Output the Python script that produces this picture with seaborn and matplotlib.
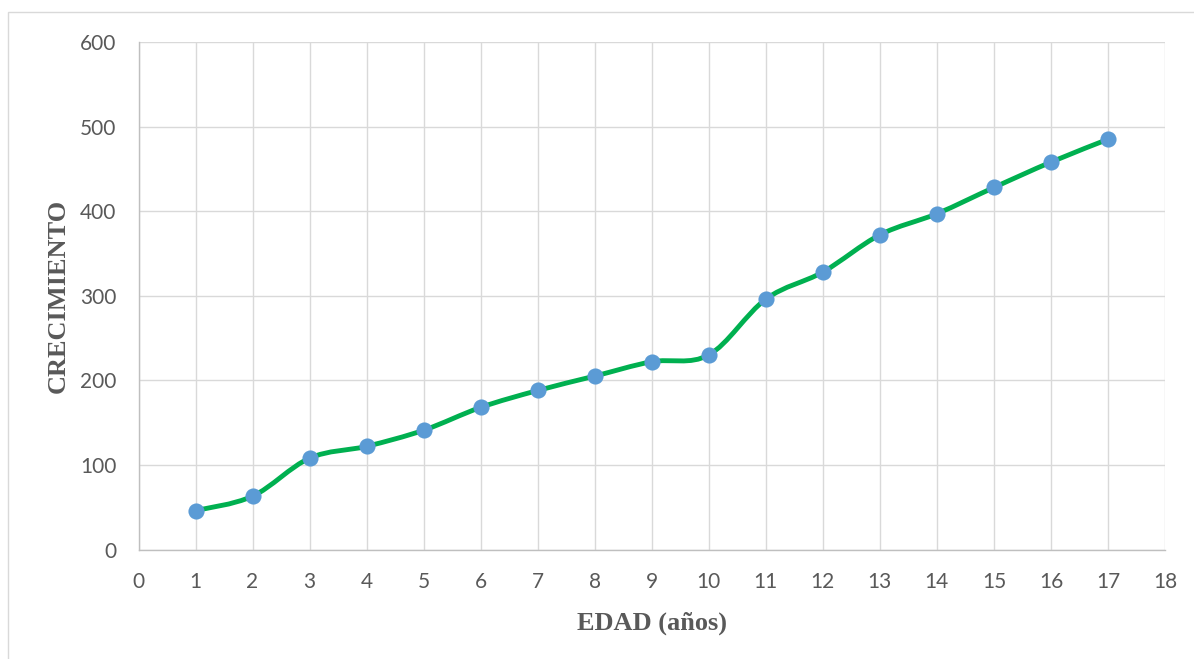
import numpy as np
import pandas as pd
import seaborn as sns
import matplotlib
matplotlib.use("Agg")
import matplotlib.pyplot as plt
from matplotlib.path import Path
from matplotlib.patches import PathPatch, Rectangle

# Growth by age
edad = [1, 2, 3, 4, 5, 6, 7, 8, 9, 10, 11, 12, 13, 14, 15, 16, 17]
crecimiento = [46, 63, 108, 122, 141, 168, 188, 205, 222, 230, 296, 328, 372, 397, 428, 458, 485]

x_ticks = list(range(0, 19))
y_ticks = [0, 100, 200, 300, 400, 500, 600]

df = pd.DataFrame({"EDAD": edad, "CRECIMIENTO": crecimiento})

sns.set_theme(style="white")
plt.rcParams["font.family"] = ["Lato", "DejaVu Sans"]

W, H, DPI = 1194, 659, 100
fig = plt.figure(figsize=(W / DPI, H / DPI), dpi=DPI)
ax = fig.add_axes([138.5 / W, 1 - 549.5 / H, (1165 - 138.5) / W, (549.5 - 42) / H])

# outer chart-area frame
fig.patches.append(Rectangle((7.5 / W, -0.05), 1.1, 1 - 12 / H + 0.05,
                             transform=fig.transFigure, fill=False,
                             edgecolor="#D9D9D9", linewidth=1.0))


def smooth_path(xs, ys):
    """Bezier path through the points with Catmull-Rom style control points."""
    pts = np.column_stack([xs, ys]).astype(float)
    n = len(pts)
    verts = [pts[0]]
    codes = [Path.MOVETO]
    for i in range(n - 1):
        p0 = pts[i - 1] if i > 0 else pts[i]
        p1 = pts[i]
        p2 = pts[i + 1]
        p3 = pts[i + 2] if i + 2 < n else pts[i + 1]
        c1 = p1 + (p2 - p0) / 6.0
        c2 = p2 - (p3 - p1) / 6.0
        verts += [c1, c2, p2]
        codes += [Path.CURVE4] * 3
    return Path(verts, codes)


ax.add_patch(PathPatch(smooth_path(df["EDAD"], df["CRECIMIENTO"]),
                       facecolor="none", edgecolor="#00B050", linewidth=3.5,
                       capstyle="round", joinstyle="round", zorder=3))

sns.scatterplot(data=df, x="EDAD", y="CRECIMIENTO", ax=ax, s=135,
                color="#5B9BD5", edgecolor="#5B9BD5", linewidth=0, zorder=4)

ax.set_xlim(0, 18)
ax.set_ylim(0, 600)
ax.set_xticks(x_ticks)
ax.set_yticks(y_ticks)
ax.grid(True, color="#D9D9D9", linewidth=1.0)
ax.set_axisbelow(True)
for side in ["top", "right"]:
    ax.spines[side].set_visible(False)
for side in ["left", "bottom"]:
    ax.spines[side].set_color("#BFBFBF")
    ax.spines[side].set_linewidth(1.0)
ax.tick_params(axis="both", length=0, labelsize=15, labelcolor="#595959")
ax.tick_params(axis="y", pad=16)
ax.tick_params(axis="x", pad=16)

ax.set_xlabel("EDAD (años)", fontfamily="Liberation Serif", fontweight="bold",
              fontsize=19, color="#595959", labelpad=14)
ax.set_ylabel("CRECIMIENTO", fontfamily="Liberation Serif", fontweight="bold",
              fontsize=19, color="#595959", labelpad=7)

fig.savefig("out.png", dpi=DPI)
